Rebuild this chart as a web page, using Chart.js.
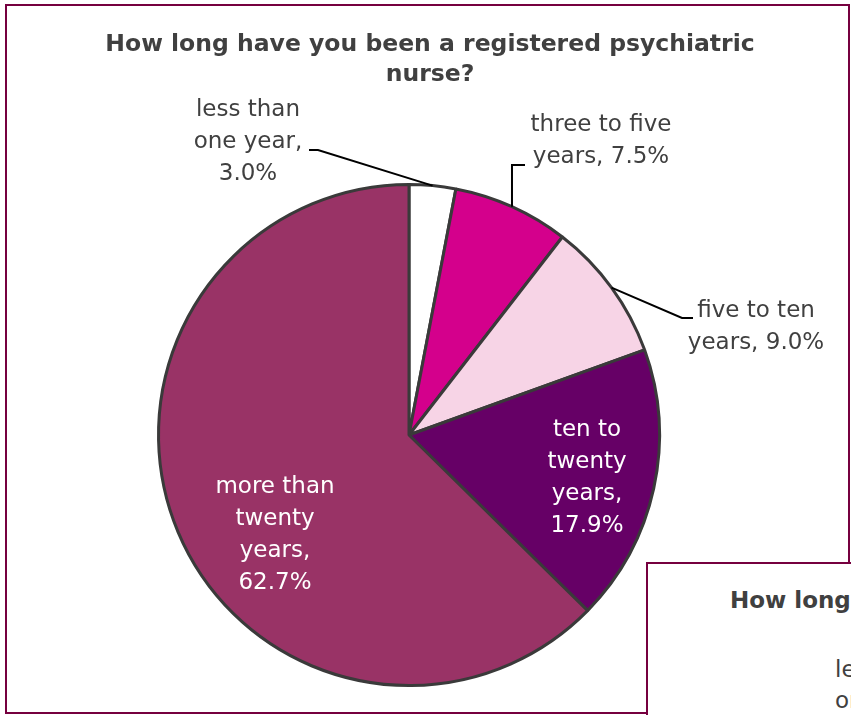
<!DOCTYPE html>
<html>
<head>
<meta charset="utf-8">
<title>Registered psychiatric nurse</title>
<script src="https://cdn.jsdelivr.net/npm/chart.js@4.4.1/dist/chart.umd.min.js"></script>
<style>
  html, body { margin: 0; padding: 0; background: #fff; overflow: hidden; }
  #wrap { position: relative; width: 851px; height: 715px; overflow: hidden; }
  #frame { position: absolute; left: 5px; top: 4px; width: 841px; height: 706px; border: 2px solid #76003f; }
  #pie { position: absolute; left: 0; top: 0; }
  /* second chart box sitting over the lower right corner */
  #second { position: absolute; left: 646px; top: 562px; width: 700px; height: 400px;
            border: 2px solid #76003f; background: #fff; font-family: "DejaVu Sans", sans-serif; color: #404040; }
  #second .t { position: absolute; left: 82px; top: 23px; white-space: nowrap; font-weight: bold; font-size: 23px; }
  #second .l { position: absolute; left: 187px; white-space: nowrap; font-size: 23px; }
</style>
</head>
<body>
<div id="wrap">
  <div id="frame"></div>
  <canvas id="pie" width="851" height="715"></canvas>
  <div id="second">
    <div class="t">How long have you been a registered psychiatric nurse?</div>
    <div class="l" style="top:92px">less than</div>
    <div class="l" style="top:123px">one year,</div>
  </div>
</div>
<script>
// dados do gráfico
var titleLines = ['How long have you been a registered psychiatric', 'nurse?'];
var categories = ['less than one year', 'three to five years', 'five to ten years', 'ten to twenty years', 'more than twenty years'];
var percents = [3.0, 7.5, 9.0, 17.9, 62.7];
var colors = ['#ffffff', '#d4008c', '#f7d4e6', '#660066', '#993366'];

// posição dos rótulos (centro da primeira linha), largura de quebra e linha de chamada
var labelLayout = [
  { x: 248, y: 110, wrap: 125, color: '#404040', elbow: [318, 150], end: [309, 150] },
  { x: 601, y: 125, wrap: 160, color: '#404040', elbow: null, end: [525, 165], vertical: true },
  { x: 756, y: 311, wrap: 160, color: '#404040', elbow: [682, 318], end: [693, 318] },
  { x: 587, y: 430, wrap: 90, color: '#ffffff' },
  { x: 275, y: 487, wrap: 135, color: '#ffffff' }
];

var FONT = '"DejaVu Sans", sans-serif';

function wrapText(ctx, text, maxW) {
  var words = text.split(' ');
  var lines = [];
  var cur = '';
  words.forEach(function (w) {
    var test = cur ? cur + ' ' + w : w;
    if (cur && ctx.measureText(test).width > maxW) {
      lines.push(cur);
      cur = w;
    } else {
      cur = test;
    }
  });
  if (cur) lines.push(cur);
  return lines;
}

// plugin que desenha título, rótulos e linhas de chamada
var labelsPlugin = {
  id: 'pieLabels',
  afterDraw: function (chart) {
    var ctx = chart.ctx;
    ctx.save();
    ctx.fillStyle = '#404040';
    ctx.textAlign = 'center';
    ctx.textBaseline = 'middle';
    ctx.font = 'bold 23.5px ' + FONT;
    ctx.fillText(titleLines[0], 430, 45);
    ctx.fillText(titleLines[1], 430, 75);

    var arcs = chart.getDatasetMeta(0).data;
    ctx.font = '23px ' + FONT;
    arcs.forEach(function (arc, i) {
      var lay = labelLayout[i];
      var text = categories[i] + ', ' + percents[i].toFixed(1) + '%';
      var lines = wrapText(ctx, text, lay.wrap);
      ctx.fillStyle = lay.color;
      lines.forEach(function (ln, k) {
        ctx.fillText(ln, lay.x, lay.y + k * 32);
      });
      if (lay.end) {
        // ponto no meio do arco externo
        var mid = (arc.startAngle + arc.endAngle) / 2;
        var px = arc.x + Math.cos(mid) * arc.outerRadius;
        var py = arc.y + Math.sin(mid) * arc.outerRadius;
        ctx.strokeStyle = '#000';
        ctx.lineWidth = 2;
        ctx.beginPath();
        ctx.moveTo(px, py);
        if (lay.vertical) {
          ctx.lineTo(px, lay.end[1]);
        } else {
          ctx.lineTo(lay.elbow[0], lay.elbow[1]);
        }
        ctx.lineTo(lay.end[0], lay.end[1]);
        ctx.stroke();
      }
    });
    ctx.restore();
  }
};

new Chart(document.getElementById('pie'), {
  type: 'pie',
  data: {
    labels: categories,
    datasets: [{
      data: percents,
      backgroundColor: colors,
      borderColor: '#3a3a3a',
      borderWidth: 3
    }]
  },
  options: {
    responsive: false,
    animation: false,
    devicePixelRatio: 1,
    layout: { padding: { left: 157, right: 190, top: 182, bottom: 27 } },
    plugins: {
      legend: { display: false },
      tooltip: { enabled: false },
      title: { display: false }
    }
  },
  plugins: [labelsPlugin]
});
</script>
</body>
</html>
